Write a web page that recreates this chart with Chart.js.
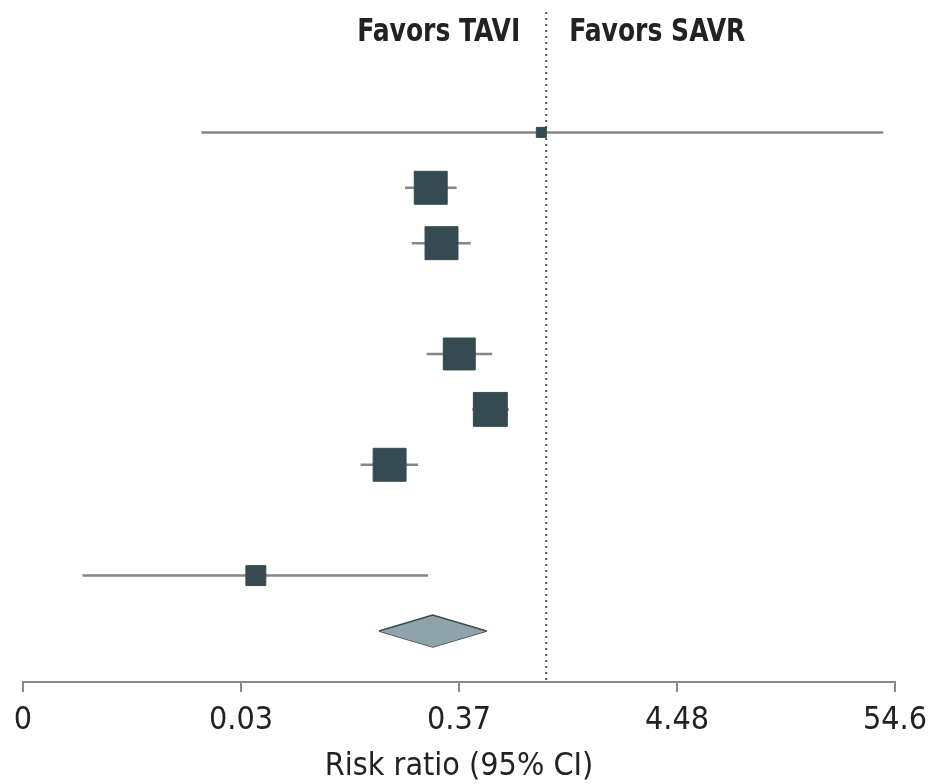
<!DOCTYPE html>
<html>
<head>
<meta charset="utf-8">
<script src="https://cdn.jsdelivr.net/npm/chart.js@4/dist/chart.umd.min.js"></script>
<style>
html,body{margin:0;padding:0;background:#ffffff;}
#wrap{width:930px;height:784px;position:relative;}
</style>
</head>
<body>
<div id="wrap"><canvas id="c"></canvas></div>
<script>
// ---- data ----
const studyRows   = [0, 1, 2, 4, 5, 6, 8];
const riskRatio   = [0.946, 0.266, 0.301, 0.369, 0.527, 0.166, 0.0358];
const ciLower     = [0.0192, 0.198, 0.214, 0.254, 0.428, 0.119, 0.0049];
const ciUpper     = [47.7, 0.358, 0.421, 0.538, 0.652, 0.230, 0.258];
const studyWeight = [1.7, 18.3, 18.3, 17.2, 19.4, 18.3, 6.7];
const pooledRow   = 9;
const pooledRR    = [0.272];
const pooledLower = [0.147];
const pooledUpper = [0.505];
const tickLogs    = [-6, -3.5, -1, 1.5, 4];
const tickLabels  = ['0', '0.03', '0.37', '4.48', '54.6'];
const sideLabels  = ['Favors TAVI', 'Favors SAVR'];
const axisTitle   = 'Risk ratio (95% CI)';

// ---- styling / layout ----
const FONT = "'DejaVu Sans Condensed', 'Liberation Sans Narrow', 'Liberation Sans', sans-serif";
const Y_MIN = -2.173, Y_MAX = 9.921;
const SQUARE_COLOR = '#354b51';
const CI_COLOR = '#858585';
const DIAMOND_HALF = 0.29;

const datasets = [];
// squares (drawn on top: first dataset)
datasets.push({
  type: 'scatter',
  data: riskRatio.map((v, i) => ({x: v, y: studyRows[i]})),
  pointStyle: 'rect',
  pointRadius: studyWeight.map(w => 7.7 * Math.sqrt(w) / Math.SQRT2),
  pointHoverRadius: studyWeight.map(w => 7.7 * Math.sqrt(w) / Math.SQRT2),
  backgroundColor: SQUARE_COLOR,
  borderColor: SQUARE_COLOR,
  borderWidth: 1,
  clip: false
});
// pooled diamond (upper + lower halves, filled between)
datasets.push({
  type: 'scatter', showLine: true, tension: 0,
  data: [{x: pooledLower[0], y: pooledRow}, {x: pooledRR[0], y: pooledRow - DIAMOND_HALF}, {x: pooledUpper[0], y: pooledRow}],
  borderColor: '#3b4a4e', borderWidth: 1.5, pointRadius: 0,
  backgroundColor: '#8ea4aa', fill: '+1'
});
datasets.push({
  type: 'scatter', showLine: true, tension: 0,
  data: [{x: pooledLower[0], y: pooledRow}, {x: pooledRR[0], y: pooledRow + DIAMOND_HALF}, {x: pooledUpper[0], y: pooledRow}],
  borderColor: '#3b4a4e', borderWidth: 1.5, pointRadius: 0, fill: false
});
// confidence interval lines
studyRows.forEach((r, i) => {
  datasets.push({
    type: 'scatter', showLine: true,
    data: [{x: ciLower[i], y: r}, {x: ciUpper[i], y: r}],
    borderColor: CI_COLOR, borderWidth: 2.5, pointRadius: 0, fill: false
  });
});
// null line at RR = 1
datasets.push({
  type: 'scatter', showLine: true,
  data: [{x: 1, y: Y_MIN}, {x: 1, y: Y_MAX}],
  borderColor: '#555555', borderWidth: 2, borderDash: [2, 4], pointRadius: 0, fill: false
});

const sideLabelPlugin = {
  id: 'sideLabels',
  afterDraw(chart) {
    const ctx = chart.ctx;
    const x1 = chart.scales.x.getPixelForValue(1);
    const sx = 0.87;
    ctx.save();
    ctx.font = 'bold 32px ' + FONT;
    ctx.fillStyle = '#222222';
    ctx.textBaseline = 'middle';
    ctx.scale(sx, 1);
    ctx.textAlign = 'right';
    ctx.fillText(sideLabels[0], (x1 - 26) / sx, 33);
    ctx.textAlign = 'left';
    ctx.fillText(sideLabels[1], (x1 + 23) / sx, 33);
    ctx.restore();
  }
};

new Chart(document.getElementById('c'), {
  type: 'scatter',
  data: {datasets},
  options: {
    responsive: true,
    maintainAspectRatio: false,
    animation: false,
    devicePixelRatio: 1,
    layout: {autoPadding: false, padding: {top: 12, left: 23, right: 35, bottom: 0}},
    plugins: {legend: {display: false}, tooltip: {enabled: false}},
    scales: {
      x: {
        type: 'logarithmic',
        bounds: 'data',
        min: Math.exp(tickLogs[0]),
        max: Math.exp(tickLogs[tickLogs.length - 1]),
        afterBuildTicks: s => { s.ticks = tickLogs.map(v => ({value: Math.exp(v)})); },
        afterFit: s => { s.height = 102; s.paddingLeft = 0; s.paddingRight = 0; },
        ticks: {
          callback: (v, i) => tickLabels[i],
          autoSkip: false, maxRotation: 0, minRotation: 0,
          font: {family: FONT, size: 32}, color: '#222222', padding: 9
        },
        grid: {drawOnChartArea: false, drawTicks: true, tickLength: 10, color: '#8a8a8a', lineWidth: 2},
        border: {display: true, color: '#8a8a8a', width: 2},
        title: {display: true, text: axisTitle, font: {family: FONT, size: 32}, color: '#222222', padding: {top: 0, bottom: -2}}
      },
      y: {
        type: 'linear', display: false, reverse: true, min: Y_MIN, max: Y_MAX
      }
    }
  },
  plugins: [sideLabelPlugin]
});
</script>
</body>
</html>
